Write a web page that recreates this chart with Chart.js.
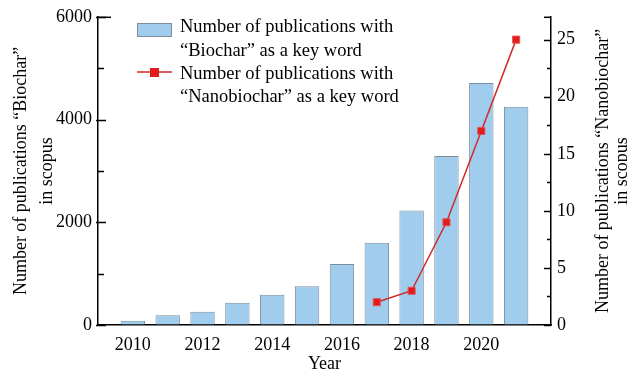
<!DOCTYPE html>
<html><head><meta charset="utf-8">
<script src="https://cdn.jsdelivr.net/npm/chart.js@4.4.0/dist/chart.umd.min.js"></script>
<style>html,body{margin:0;padding:0;background:#fff;overflow:hidden}#wrap{width:627px;height:374px}</style>
</head><body><div id="wrap"><canvas id="c" width="627" height="374"></canvas></div>
<script>
const years = [2010, 2011, 2012, 2013, 2014, 2015, 2016, 2017, 2018, 2019, 2020, 2021];
const biochar = [85, 188, 259, 434, 588, 755, 1189, 1601, 2227, 3290, 4712, 4248];
const nanoYears = [2017, 2018, 2019, 2020, 2021];
const nanobiochar = [2, 3, 9, 17, 25];
const xTickValues = [2010, 2012, 2014, 2016, 2018, 2020];
const leftTickValues = [0, 2000, 4000, 6000];
const leftMinorValues = [1000, 3000, 5000];
const rightTickValues = [0, 5, 10, 15, 20, 25];
const rightMinorValues = [2.5, 7.5, 12.5, 17.5, 22.5];
const biocharLabel = ["Number of publications with", "\u201CBiochar\u201D as a key word"];
const nanoLabel = ["Number of publications with", "\u201CNanobiochar\u201D as a key word"];
const leftTitle = ["Number of publications \u201CBiochar\u201D", "in scopus"];
const rightTitle = ["Number of publications \u201CNanobiochar\u201D", "in scopus"];
const xTitle = "Year";

const FONT = "'Liberation Serif', 'Times New Roman', serif";
const barFill = '#a0cdee';
const barBorder = '#7d8d9c';
const lineColor = '#cf2a2a';
const markerColor = '#e01c1c';

const extras = {
  id: 'extras',
  afterDraw(chart) {
    const ctx = chart.ctx;
    const y = chart.scales.y, y1 = chart.scales.y1;
    const ax = chart.chartArea;
    ctx.save();
    ctx.strokeStyle = '#000';
    ctx.lineWidth = 1.5;
    leftTickValues.forEach(v => {
      const p = Math.round(y.getPixelForValue(v)) + 0.5;
      ctx.beginPath(); ctx.moveTo(ax.left - 2, p); ctx.lineTo(ax.left + 8, p); ctx.stroke();
    });
    leftMinorValues.forEach(v => {
      const p = Math.round(y.getPixelForValue(v)) + 0.5;
      ctx.beginPath(); ctx.moveTo(ax.left, p); ctx.lineTo(ax.left + 6, p); ctx.stroke();
    });
    rightTickValues.forEach(v => {
      const p = Math.round(y1.getPixelForValue(v)) + 0.5;
      ctx.beginPath(); ctx.moveTo(ax.right, p); ctx.lineTo(ax.right - 7, p); ctx.stroke();
    });
    rightMinorValues.forEach(v => {
      const p = Math.round(y1.getPixelForValue(v)) + 0.5;
      ctx.beginPath(); ctx.moveTo(ax.right, p); ctx.lineTo(ax.right - 4, p); ctx.stroke();
    });
    ctx.beginPath(); ctx.moveTo(ax.left, ax.top + 0.5); ctx.lineTo(ax.left + 13, ax.top + 0.5); ctx.stroke();
    ctx.beginPath(); ctx.moveTo(ax.right, ax.top + 0.5); ctx.lineTo(ax.right - 7, ax.top + 0.5); ctx.stroke();

    ctx.fillStyle = '#000';
    ctx.font = '18px ' + FONT;
    ctx.textAlign = 'center';
    ctx.textBaseline = 'middle';
    const cy = (ax.top + ax.bottom) / 2;
    rightTitle.forEach((t, i) => {
      ctx.save();
      ctx.translate(603 + i * 19, cy);
      ctx.rotate(-Math.PI / 2);
      ctx.fillText(t, 0, 0);
      ctx.restore();
    });

    ctx.textAlign = 'left';
    ctx.textBaseline = 'alphabetic';
    ctx.font = '18.5px ' + FONT;
    ctx.fillStyle = barFill;
    ctx.fillRect(137, 23, 35, 14);
    ctx.strokeStyle = barBorder; ctx.lineWidth = 1;
    ctx.strokeRect(137.5, 23.5, 34, 13);
    ctx.fillStyle = '#000';
    const base = [32, 55.5, 78.8, 102];
    ctx.fillText(biocharLabel[0], 180, base[0]);
    ctx.fillText(biocharLabel[1], 180, base[1]);
    ctx.fillText(nanoLabel[0], 180, base[2]);
    ctx.fillText(nanoLabel[1], 180, base[3]);
    ctx.strokeStyle = lineColor; ctx.lineWidth = 1.5;
    ctx.beginPath(); ctx.moveTo(137, 72); ctx.lineTo(172, 72); ctx.stroke();
    ctx.fillStyle = markerColor;
    ctx.fillRect(150, 68, 9, 9);
    ctx.restore();
  }
};

new Chart(document.getElementById('c'), {
  data: {
    datasets: [
      {
        type: 'line',
        label: nanoLabel.join(' '),
        data: nanoYears.map((x, i) => ({ x, y: nanobiochar[i] })),
        yAxisID: 'y1',
        borderColor: lineColor,
        borderWidth: 1.5,
        pointStyle: 'rect',
        pointRadius: 5,
        pointBackgroundColor: markerColor,
        pointBorderColor: '#e85050',
        pointBorderWidth: 1,
        order: 0
      },
      {
        type: 'bar',
        label: biocharLabel.join(' '),
        data: years.map((x, i) => ({ x, y: biochar[i] })),
        yAxisID: 'y',
        backgroundColor: barFill,
        borderColor: barBorder,
        borderWidth: 1,
        categoryPercentage: 0.7,
        barPercentage: 1,
        order: 1
      }
    ]
  },
  options: {
    responsive: false,
    animation: false,
    devicePixelRatio: 1,
    layout: { padding: { top: 16, left: 0, right: 0, bottom: 0 } },
    plugins: { legend: { display: false }, tooltip: { enabled: false } },
    scales: {
      x: {
        type: 'linear', min: 2009, max: 2022, offset: false,
        afterBuildTicks: s => { s.ticks = xTickValues.map(v => ({ value: v })); },
        afterFit: s => { s.height = 49; },
        grid: { display: true, drawOnChartArea: false, drawTicks: false, offset: false },
        border: { color: '#000', width: 1.5 },
        ticks: { color: '#000', font: { family: FONT, size: 18 }, padding: 9, callback: v => String(v) },
        title: { display: true, text: xTitle, color: '#000', font: { family: FONT, size: 18, lineHeight: 1.1 }, padding: { top: 0, bottom: 0 } }
      },
      y: {
        type: 'linear', position: 'left', min: 0, max: 6000,
        afterBuildTicks: s => { s.ticks = leftTickValues.map(v => ({ value: v })); },
        afterFit: s => { s.width = 98; },
        grid: { display: true, drawOnChartArea: false, drawTicks: false },
        border: { color: '#000', width: 1.5 },
        ticks: { color: '#000', font: { family: FONT, size: 18 }, padding: 6, callback: v => String(v) },
        title: { display: true, text: leftTitle, color: '#000', font: { family: FONT, size: 18, lineHeight: 1.4 }, padding: { top: 9, bottom: 0 } }
      },
      y1: {
        type: 'linear', position: 'right', min: 0, max: 27,
        afterBuildTicks: s => { s.ticks = rightTickValues.map(v => ({ value: v })); },
        afterFit: s => { s.width = 76; },
        grid: { display: true, drawOnChartArea: false, drawTicks: false },
        border: { color: '#000', width: 1.5 },
        ticks: { color: '#000', font: { family: FONT, size: 18 }, padding: 6, callback: v => String(v) }
      }
    }
  },
  plugins: [extras]
});
</script></body></html>
